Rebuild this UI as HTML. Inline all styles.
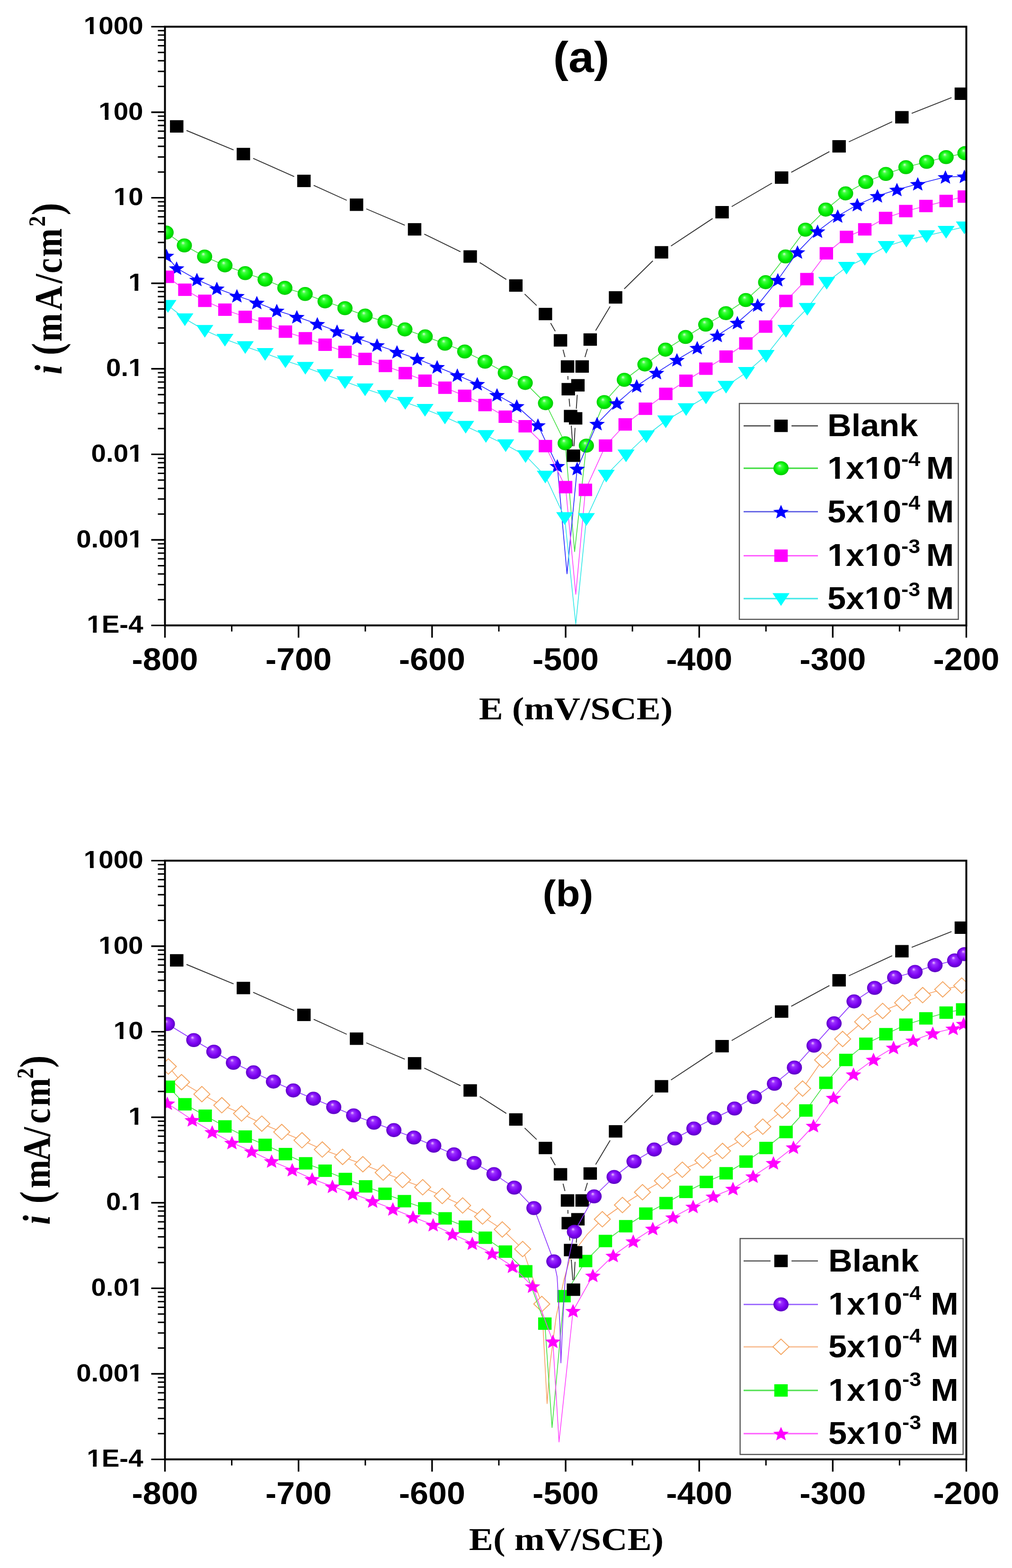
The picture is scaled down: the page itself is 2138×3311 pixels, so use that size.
<!DOCTYPE html>
<html><head><meta charset="utf-8"><title>Polarization curves (a) and (b)</title>
<style>
html,body{margin:0;padding:0;background:#fff;}
svg{display:block;}
.yl{font-family:"Liberation Sans",Arial,sans-serif;font-weight:700;font-size:52px;font-kerning:none;}
.xl{font-family:"Liberation Sans",Arial,sans-serif;font-weight:700;font-size:67.5px;}
.pl{font-family:"Liberation Sans",Arial,sans-serif;font-weight:700;}
.lg{font-family:"Liberation Sans",Arial,sans-serif;font-weight:700;font-size:66px;font-kerning:none;}
.xt{font-family:"Liberation Serif","Times New Roman",serif;font-weight:700;font-size:68.5px;}
.yt{font-family:"Liberation Serif","Times New Roman",serif;font-weight:700;font-size:83px;}
</style></head><body>
<svg width="2138" height="3311" viewBox="0 0 2138 3311">
<defs>
<clipPath id="clipP"><rect x="348.5" y="56.4" width="1693" height="1264.2"/></clipPath>
<radialGradient id="gg" cx="0.5" cy="0.5" r="0.5" fx="0.4" fy="0.3">
<stop offset="0" stop-color="#d8ffd8"/><stop offset="0.25" stop-color="#40ff40"/><stop offset="0.7" stop-color="#00f000"/><stop offset="1" stop-color="#00c800"/></radialGradient>
<radialGradient id="pg" cx="0.5" cy="0.5" r="0.5" fx="0.4" fy="0.3">
<stop offset="0" stop-color="#f0c8ff"/><stop offset="0.25" stop-color="#9a30ff"/><stop offset="0.7" stop-color="#7a00f0"/><stop offset="1" stop-color="#5a00c0"/></radialGradient>
</defs>
<rect width="2138" height="3311" fill="#fff"/>

<g transform="translate(0,0)">
<g clip-path="url(#clipP)">
<polyline points="350.9,491 389.5,518.3 432.3,541.7 475.2,560.4 518.1,576.8 560.1,590.4 601.8,607.9 644.7,620.8 686.8,636.4 728.8,650.8 771.3,666.4 813.4,679.2 855.4,695.6 898.3,710.4 940,725.8 981.8,742.3 1024.7,763.8 1067.5,787.1 1109.6,808.6 1152.5,851.4 1194,936 1214,1165 1238.8,941 1276.5,849 1319,802 1362.5,769.6 1406,738.4 1448.5,711.5 1491,685.5 1533.5,661.3 1575.7,633.5 1617.5,595.9 1659.6,541.5 1701.7,485 1744.6,442.6 1786.5,408.4 1829.1,384.2 1871.5,367.2 1913.9,353 1957.7,341.8 1998.8,331.7 2038.6,323.4" fill="none" stroke="#40e040" stroke-width="1.6" stroke-linejoin="round"/>
<ellipse cx="350.9" cy="491" rx="16" ry="14.8" fill="url(#gg)"/>
<ellipse cx="389.5" cy="518.3" rx="16" ry="14.8" fill="url(#gg)"/>
<ellipse cx="432.3" cy="541.7" rx="16" ry="14.8" fill="url(#gg)"/>
<ellipse cx="475.2" cy="560.4" rx="16" ry="14.8" fill="url(#gg)"/>
<ellipse cx="518.1" cy="576.8" rx="16" ry="14.8" fill="url(#gg)"/>
<ellipse cx="560.1" cy="590.4" rx="16" ry="14.8" fill="url(#gg)"/>
<ellipse cx="601.8" cy="607.9" rx="16" ry="14.8" fill="url(#gg)"/>
<ellipse cx="644.7" cy="620.8" rx="16" ry="14.8" fill="url(#gg)"/>
<ellipse cx="686.8" cy="636.4" rx="16" ry="14.8" fill="url(#gg)"/>
<ellipse cx="728.8" cy="650.8" rx="16" ry="14.8" fill="url(#gg)"/>
<ellipse cx="771.3" cy="666.4" rx="16" ry="14.8" fill="url(#gg)"/>
<ellipse cx="813.4" cy="679.2" rx="16" ry="14.8" fill="url(#gg)"/>
<ellipse cx="855.4" cy="695.6" rx="16" ry="14.8" fill="url(#gg)"/>
<ellipse cx="898.3" cy="710.4" rx="16" ry="14.8" fill="url(#gg)"/>
<ellipse cx="940" cy="725.8" rx="16" ry="14.8" fill="url(#gg)"/>
<ellipse cx="981.8" cy="742.3" rx="16" ry="14.8" fill="url(#gg)"/>
<ellipse cx="1024.7" cy="763.8" rx="16" ry="14.8" fill="url(#gg)"/>
<ellipse cx="1067.5" cy="787.1" rx="16" ry="14.8" fill="url(#gg)"/>
<ellipse cx="1109.6" cy="808.6" rx="16" ry="14.8" fill="url(#gg)"/>
<ellipse cx="1152.5" cy="851.4" rx="16" ry="14.8" fill="url(#gg)"/>
<ellipse cx="1194" cy="936" rx="16" ry="14.8" fill="url(#gg)"/>
<ellipse cx="1238.8" cy="941" rx="16" ry="14.8" fill="url(#gg)"/>
<ellipse cx="1276.5" cy="849" rx="16" ry="14.8" fill="url(#gg)"/>
<ellipse cx="1319" cy="802" rx="16" ry="14.8" fill="url(#gg)"/>
<ellipse cx="1362.5" cy="769.6" rx="16" ry="14.8" fill="url(#gg)"/>
<ellipse cx="1406" cy="738.4" rx="16" ry="14.8" fill="url(#gg)"/>
<ellipse cx="1448.5" cy="711.5" rx="16" ry="14.8" fill="url(#gg)"/>
<ellipse cx="1491" cy="685.5" rx="16" ry="14.8" fill="url(#gg)"/>
<ellipse cx="1533.5" cy="661.3" rx="16" ry="14.8" fill="url(#gg)"/>
<ellipse cx="1575.7" cy="633.5" rx="16" ry="14.8" fill="url(#gg)"/>
<ellipse cx="1617.5" cy="595.9" rx="16" ry="14.8" fill="url(#gg)"/>
<ellipse cx="1659.6" cy="541.5" rx="16" ry="14.8" fill="url(#gg)"/>
<ellipse cx="1701.7" cy="485" rx="16" ry="14.8" fill="url(#gg)"/>
<ellipse cx="1744.6" cy="442.6" rx="16" ry="14.8" fill="url(#gg)"/>
<ellipse cx="1786.5" cy="408.4" rx="16" ry="14.8" fill="url(#gg)"/>
<ellipse cx="1829.1" cy="384.2" rx="16" ry="14.8" fill="url(#gg)"/>
<ellipse cx="1871.5" cy="367.2" rx="16" ry="14.8" fill="url(#gg)"/>
<ellipse cx="1913.9" cy="353" rx="16" ry="14.8" fill="url(#gg)"/>
<ellipse cx="1957.7" cy="341.8" rx="16" ry="14.8" fill="url(#gg)"/>
<ellipse cx="1998.8" cy="331.7" rx="16" ry="14.8" fill="url(#gg)"/>
<ellipse cx="2038.6" cy="323.4" rx="16" ry="14.8" fill="url(#gg)"/>
<polyline points="351.7,539.7 373.1,566.2 416,590.4 458.1,609.1 500.5,624.7 542.6,639.1 584.7,655.8 627.1,669.1 670.4,683.9 712.1,699.5 754.2,714.3 796.6,728.7 838.7,743.1 881.5,757.9 923.5,774.7 966.2,792.2 1008.3,810.5 1050,833.9 1091.7,857.3 1136.5,897.7 1177.4,983.8 1197.9,1211.7 1219.3,989.6 1261.4,894.7 1303.2,851.4 1345.1,815 1387,787.1 1430.1,759.8 1473,734.4 1515.4,708.5 1557.8,681.4 1600.6,644.2 1643.3,590.9 1684.8,532.4 1727.2,488.3 1769.8,456.3 1811.1,432.4 1853.7,413.7 1894.9,400.4 1938.9,388.4 1997.4,373.8 2037.4,372.5" fill="none" stroke="#2020ff" stroke-width="1.6" stroke-linejoin="round"/>
<polygon points="351.7,525.3 356.2,535.4 368.2,536.2 359,543.3 361.9,553.9 351.7,548.1 341.5,553.9 344.4,543.3 335.2,536.2 347.2,535.4" fill="#0000ff"/>
<polygon points="373.1,551.8 377.6,561.9 389.6,562.7 380.4,569.8 383.3,580.4 373.1,574.6 362.9,580.4 365.8,569.8 356.6,562.7 368.6,561.9" fill="#0000ff"/>
<polygon points="416,576 420.5,586.1 432.5,586.9 423.3,594 426.2,604.6 416,598.8 405.8,604.6 408.7,594 399.5,586.9 411.5,586.1" fill="#0000ff"/>
<polygon points="458.1,594.7 462.6,604.8 474.6,605.6 465.4,612.7 468.3,623.3 458.1,617.5 447.9,623.3 450.8,612.7 441.6,605.6 453.6,604.8" fill="#0000ff"/>
<polygon points="500.5,610.3 505,620.4 517,621.2 507.8,628.3 510.7,638.9 500.5,633.1 490.3,638.9 493.2,628.3 484,621.2 496,620.4" fill="#0000ff"/>
<polygon points="542.6,624.7 547.1,634.8 559.1,635.6 549.9,642.7 552.8,653.3 542.6,647.5 532.4,653.3 535.3,642.7 526.1,635.6 538.1,634.8" fill="#0000ff"/>
<polygon points="584.7,641.4 589.2,651.5 601.2,652.3 592,659.4 594.9,670 584.7,664.2 574.5,670 577.4,659.4 568.2,652.3 580.2,651.5" fill="#0000ff"/>
<polygon points="627.1,654.7 631.6,664.8 643.6,665.6 634.4,672.7 637.3,683.3 627.1,677.5 616.9,683.3 619.8,672.7 610.6,665.6 622.6,664.8" fill="#0000ff"/>
<polygon points="670.4,669.5 674.9,679.6 686.9,680.4 677.7,687.5 680.6,698.1 670.4,692.3 660.2,698.1 663.1,687.5 653.9,680.4 665.9,679.6" fill="#0000ff"/>
<polygon points="712.1,685.1 716.6,695.2 728.6,696 719.4,703.1 722.3,713.7 712.1,707.9 701.9,713.7 704.8,703.1 695.6,696 707.6,695.2" fill="#0000ff"/>
<polygon points="754.2,699.9 758.7,710 770.7,710.8 761.5,717.9 764.4,728.5 754.2,722.7 744,728.5 746.9,717.9 737.7,710.8 749.7,710" fill="#0000ff"/>
<polygon points="796.6,714.3 801.1,724.4 813.1,725.2 803.9,732.3 806.8,742.9 796.6,737.1 786.4,742.9 789.3,732.3 780.1,725.2 792.1,724.4" fill="#0000ff"/>
<polygon points="838.7,728.7 843.2,738.8 855.2,739.6 846,746.7 848.9,757.3 838.7,751.5 828.5,757.3 831.4,746.7 822.2,739.6 834.2,738.8" fill="#0000ff"/>
<polygon points="881.5,743.5 886,753.6 898,754.4 888.8,761.5 891.7,772.1 881.5,766.3 871.3,772.1 874.2,761.5 865,754.4 877,753.6" fill="#0000ff"/>
<polygon points="923.5,760.3 928,770.4 940,771.2 930.8,778.3 933.7,788.9 923.5,783.1 913.3,788.9 916.2,778.3 907,771.2 919,770.4" fill="#0000ff"/>
<polygon points="966.2,777.8 970.7,787.9 982.7,788.7 973.5,795.8 976.4,806.4 966.2,800.6 956,806.4 958.9,795.8 949.7,788.7 961.7,787.9" fill="#0000ff"/>
<polygon points="1008.3,796.1 1012.8,806.2 1024.8,807 1015.6,814.1 1018.5,824.7 1008.3,818.9 998.1,824.7 1001,814.1 991.8,807 1003.8,806.2" fill="#0000ff"/>
<polygon points="1050,819.5 1054.5,829.6 1066.5,830.4 1057.3,837.5 1060.2,848.1 1050,842.3 1039.8,848.1 1042.7,837.5 1033.5,830.4 1045.5,829.6" fill="#0000ff"/>
<polygon points="1091.7,842.9 1096.2,853 1108.2,853.8 1099,860.9 1101.9,871.5 1091.7,865.7 1081.5,871.5 1084.4,860.9 1075.2,853.8 1087.2,853" fill="#0000ff"/>
<polygon points="1136.5,883.3 1141,893.4 1153,894.2 1143.8,901.3 1146.7,911.9 1136.5,906.1 1126.3,911.9 1129.2,901.3 1120,894.2 1132,893.4" fill="#0000ff"/>
<polygon points="1177.4,969.4 1181.9,979.5 1193.9,980.3 1184.7,987.4 1187.6,998 1177.4,992.2 1167.2,998 1170.1,987.4 1160.9,980.3 1172.9,979.5" fill="#0000ff"/>
<polygon points="1219.3,975.2 1223.8,985.3 1235.8,986.1 1226.6,993.2 1229.5,1003.8 1219.3,998 1209.1,1003.8 1212,993.2 1202.8,986.1 1214.8,985.3" fill="#0000ff"/>
<polygon points="1261.4,880.3 1265.9,890.4 1277.9,891.2 1268.7,898.3 1271.6,908.9 1261.4,903.1 1251.2,908.9 1254.1,898.3 1244.9,891.2 1256.9,890.4" fill="#0000ff"/>
<polygon points="1303.2,837 1307.7,847.1 1319.7,847.9 1310.5,855 1313.4,865.6 1303.2,859.8 1293,865.6 1295.9,855 1286.7,847.9 1298.7,847.1" fill="#0000ff"/>
<polygon points="1345.1,800.6 1349.6,810.7 1361.6,811.5 1352.4,818.6 1355.3,829.2 1345.1,823.4 1334.9,829.2 1337.8,818.6 1328.6,811.5 1340.6,810.7" fill="#0000ff"/>
<polygon points="1387,772.7 1391.5,782.8 1403.5,783.6 1394.3,790.7 1397.2,801.3 1387,795.5 1376.8,801.3 1379.7,790.7 1370.5,783.6 1382.5,782.8" fill="#0000ff"/>
<polygon points="1430.1,745.4 1434.6,755.5 1446.6,756.3 1437.4,763.4 1440.3,774 1430.1,768.2 1419.9,774 1422.8,763.4 1413.6,756.3 1425.6,755.5" fill="#0000ff"/>
<polygon points="1473,720 1477.5,730.1 1489.5,730.9 1480.3,738 1483.2,748.6 1473,742.8 1462.8,748.6 1465.7,738 1456.5,730.9 1468.5,730.1" fill="#0000ff"/>
<polygon points="1515.4,694.1 1519.9,704.2 1531.9,705 1522.7,712.1 1525.6,722.7 1515.4,716.9 1505.2,722.7 1508.1,712.1 1498.9,705 1510.9,704.2" fill="#0000ff"/>
<polygon points="1557.8,667 1562.3,677.1 1574.3,677.9 1565.1,685 1568,695.6 1557.8,689.8 1547.6,695.6 1550.5,685 1541.3,677.9 1553.3,677.1" fill="#0000ff"/>
<polygon points="1600.6,629.8 1605.1,639.9 1617.1,640.7 1607.9,647.8 1610.8,658.4 1600.6,652.6 1590.4,658.4 1593.3,647.8 1584.1,640.7 1596.1,639.9" fill="#0000ff"/>
<polygon points="1643.3,576.5 1647.8,586.6 1659.8,587.4 1650.6,594.5 1653.5,605.1 1643.3,599.3 1633.1,605.1 1636,594.5 1626.8,587.4 1638.8,586.6" fill="#0000ff"/>
<polygon points="1684.8,518 1689.3,528.1 1701.3,528.9 1692.1,536 1695,546.6 1684.8,540.8 1674.6,546.6 1677.5,536 1668.3,528.9 1680.3,528.1" fill="#0000ff"/>
<polygon points="1727.2,473.9 1731.7,484 1743.7,484.8 1734.5,491.9 1737.4,502.5 1727.2,496.7 1717,502.5 1719.9,491.9 1710.7,484.8 1722.7,484" fill="#0000ff"/>
<polygon points="1769.8,441.9 1774.3,452 1786.3,452.8 1777.1,459.9 1780,470.5 1769.8,464.7 1759.6,470.5 1762.5,459.9 1753.3,452.8 1765.3,452" fill="#0000ff"/>
<polygon points="1811.1,418 1815.6,428.1 1827.6,428.9 1818.4,436 1821.3,446.6 1811.1,440.8 1800.9,446.6 1803.8,436 1794.6,428.9 1806.6,428.1" fill="#0000ff"/>
<polygon points="1853.7,399.3 1858.2,409.4 1870.2,410.2 1861,417.3 1863.9,427.9 1853.7,422.1 1843.5,427.9 1846.4,417.3 1837.2,410.2 1849.2,409.4" fill="#0000ff"/>
<polygon points="1894.9,386 1899.4,396.1 1911.4,396.9 1902.2,404 1905.1,414.6 1894.9,408.8 1884.7,414.6 1887.6,404 1878.4,396.9 1890.4,396.1" fill="#0000ff"/>
<polygon points="1938.9,374 1943.4,384.1 1955.4,384.9 1946.2,392 1949.1,402.6 1938.9,396.8 1928.7,402.6 1931.6,392 1922.4,384.9 1934.4,384.1" fill="#0000ff"/>
<polygon points="1997.4,359.4 2001.9,369.5 2013.9,370.3 2004.7,377.4 2007.6,388 1997.4,382.2 1987.2,388 1990.1,377.4 1980.9,370.3 1992.9,369.5" fill="#0000ff"/>
<polygon points="2037.4,358.1 2041.9,368.2 2053.9,369 2044.7,376.1 2047.6,386.7 2037.4,380.9 2027.2,386.7 2030.1,376.1 2020.9,369 2032.9,368.2" fill="#0000ff"/>
<polyline points="353.6,584.5 390.6,611.8 432.7,635.2 475.2,653.9 518.1,669.1 560.1,683.1 603,700.3 645.1,714.3 686.8,727.9 728.8,743.1 771.3,757.9 814.2,772.7 856.2,787.9 897.9,803.9 940,818.7 981.8,835.8 1024.7,855.3 1067.5,879.9 1109.6,900.1 1152.3,942 1194.9,1028.6 1216.4,1255 1236.8,1034.4 1279.3,941 1320.8,896.2 1363.6,863.1 1406.6,831.7 1449.2,804 1491.3,778.5 1533.9,753 1575.7,725.3 1617.6,689.6 1660.3,635.5 1704.7,589.4 1745.8,534.9 1788.4,500.3 1827,484.3 1871,460.3 1913.6,445.7 1956.2,435 1998.8,424.4 2037.4,415.1" fill="none" stroke="#ff40ff" stroke-width="1.6" stroke-linejoin="round"/>
<rect x="339.4" y="571.4" width="28.4" height="26.2" fill="#ff00ff"/>
<rect x="376.4" y="598.7" width="28.4" height="26.2" fill="#ff00ff"/>
<rect x="418.5" y="622.1" width="28.4" height="26.2" fill="#ff00ff"/>
<rect x="461" y="640.8" width="28.4" height="26.2" fill="#ff00ff"/>
<rect x="503.9" y="656" width="28.4" height="26.2" fill="#ff00ff"/>
<rect x="545.9" y="670" width="28.4" height="26.2" fill="#ff00ff"/>
<rect x="588.8" y="687.2" width="28.4" height="26.2" fill="#ff00ff"/>
<rect x="630.9" y="701.2" width="28.4" height="26.2" fill="#ff00ff"/>
<rect x="672.6" y="714.8" width="28.4" height="26.2" fill="#ff00ff"/>
<rect x="714.6" y="730" width="28.4" height="26.2" fill="#ff00ff"/>
<rect x="757.1" y="744.8" width="28.4" height="26.2" fill="#ff00ff"/>
<rect x="800" y="759.6" width="28.4" height="26.2" fill="#ff00ff"/>
<rect x="842" y="774.8" width="28.4" height="26.2" fill="#ff00ff"/>
<rect x="883.7" y="790.8" width="28.4" height="26.2" fill="#ff00ff"/>
<rect x="925.8" y="805.6" width="28.4" height="26.2" fill="#ff00ff"/>
<rect x="967.6" y="822.7" width="28.4" height="26.2" fill="#ff00ff"/>
<rect x="1010.5" y="842.2" width="28.4" height="26.2" fill="#ff00ff"/>
<rect x="1053.3" y="866.8" width="28.4" height="26.2" fill="#ff00ff"/>
<rect x="1095.4" y="887" width="28.4" height="26.2" fill="#ff00ff"/>
<rect x="1138.1" y="928.9" width="28.4" height="26.2" fill="#ff00ff"/>
<rect x="1180.7" y="1015.5" width="28.4" height="26.2" fill="#ff00ff"/>
<rect x="1222.6" y="1021.3" width="28.4" height="26.2" fill="#ff00ff"/>
<rect x="1265.1" y="927.9" width="28.4" height="26.2" fill="#ff00ff"/>
<rect x="1306.6" y="883.1" width="28.4" height="26.2" fill="#ff00ff"/>
<rect x="1349.4" y="850" width="28.4" height="26.2" fill="#ff00ff"/>
<rect x="1392.4" y="818.6" width="28.4" height="26.2" fill="#ff00ff"/>
<rect x="1435" y="790.9" width="28.4" height="26.2" fill="#ff00ff"/>
<rect x="1477.1" y="765.4" width="28.4" height="26.2" fill="#ff00ff"/>
<rect x="1519.7" y="739.9" width="28.4" height="26.2" fill="#ff00ff"/>
<rect x="1561.5" y="712.2" width="28.4" height="26.2" fill="#ff00ff"/>
<rect x="1603.4" y="676.5" width="28.4" height="26.2" fill="#ff00ff"/>
<rect x="1646.1" y="622.4" width="28.4" height="26.2" fill="#ff00ff"/>
<rect x="1690.5" y="576.3" width="28.4" height="26.2" fill="#ff00ff"/>
<rect x="1731.6" y="521.8" width="28.4" height="26.2" fill="#ff00ff"/>
<rect x="1774.2" y="487.2" width="28.4" height="26.2" fill="#ff00ff"/>
<rect x="1812.8" y="471.2" width="28.4" height="26.2" fill="#ff00ff"/>
<rect x="1856.8" y="447.2" width="28.4" height="26.2" fill="#ff00ff"/>
<rect x="1899.4" y="432.6" width="28.4" height="26.2" fill="#ff00ff"/>
<rect x="1942" y="421.9" width="28.4" height="26.2" fill="#ff00ff"/>
<rect x="1984.6" y="411.3" width="28.4" height="26.2" fill="#ff00ff"/>
<rect x="2023.2" y="402" width="28.4" height="26.2" fill="#ff00ff"/>
<polyline points="354.8,644.9 390.6,673 432.7,697.5 475.2,716.2 518.1,731.8 560.1,746.2 603,761.8 645.1,775.5 686.8,791 728.8,805.8 771.3,821 814.2,835.1 856.2,849.5 897.9,864.3 940,880.6 983.8,900.1 1026.6,919.6 1068.3,939.1 1110.3,962 1152.1,1005.2 1193,1092.9 1216.4,1318 1238.8,1094.8 1280.7,1003.3 1322.6,960.5 1365.5,920 1406.5,888.5 1449.5,862.7 1491.5,838 1533.9,815.6 1577,786.3 1618.5,750.4 1660.5,697.4 1705.5,651 1746.5,596 1788.4,564.2 1827,545.5 1872.3,520.2 1914.9,506.9 1957.5,497.6 1998.8,488.3 2037.4,479" fill="none" stroke="#30e8e8" stroke-width="1.6" stroke-linejoin="round"/>
<polygon points="336.8,633.6 372.8,633.6 354.8,660.4" fill="#00ffff"/>
<polygon points="372.6,661.7 408.6,661.7 390.6,688.5" fill="#00ffff"/>
<polygon points="414.7,686.2 450.7,686.2 432.7,713" fill="#00ffff"/>
<polygon points="457.2,704.9 493.2,704.9 475.2,731.7" fill="#00ffff"/>
<polygon points="500.1,720.5 536.1,720.5 518.1,747.3" fill="#00ffff"/>
<polygon points="542.1,734.9 578.1,734.9 560.1,761.7" fill="#00ffff"/>
<polygon points="585,750.5 621,750.5 603,777.3" fill="#00ffff"/>
<polygon points="627.1,764.2 663.1,764.2 645.1,791" fill="#00ffff"/>
<polygon points="668.8,779.7 704.8,779.7 686.8,806.5" fill="#00ffff"/>
<polygon points="710.8,794.5 746.8,794.5 728.8,821.3" fill="#00ffff"/>
<polygon points="753.3,809.7 789.3,809.7 771.3,836.5" fill="#00ffff"/>
<polygon points="796.2,823.8 832.2,823.8 814.2,850.6" fill="#00ffff"/>
<polygon points="838.2,838.2 874.2,838.2 856.2,865" fill="#00ffff"/>
<polygon points="879.9,853 915.9,853 897.9,879.8" fill="#00ffff"/>
<polygon points="922,869.3 958,869.3 940,896.1" fill="#00ffff"/>
<polygon points="965.8,888.8 1001.8,888.8 983.8,915.6" fill="#00ffff"/>
<polygon points="1008.6,908.3 1044.6,908.3 1026.6,935.1" fill="#00ffff"/>
<polygon points="1050.3,927.8 1086.3,927.8 1068.3,954.6" fill="#00ffff"/>
<polygon points="1092.3,950.7 1128.3,950.7 1110.3,977.5" fill="#00ffff"/>
<polygon points="1134.1,993.9 1170.1,993.9 1152.1,1020.7" fill="#00ffff"/>
<polygon points="1175,1081.6 1211,1081.6 1193,1108.4" fill="#00ffff"/>
<polygon points="1220.8,1083.5 1256.8,1083.5 1238.8,1110.3" fill="#00ffff"/>
<polygon points="1262.7,992 1298.7,992 1280.7,1018.8" fill="#00ffff"/>
<polygon points="1304.6,949.2 1340.6,949.2 1322.6,976" fill="#00ffff"/>
<polygon points="1347.5,908.7 1383.5,908.7 1365.5,935.5" fill="#00ffff"/>
<polygon points="1388.5,877.2 1424.5,877.2 1406.5,904" fill="#00ffff"/>
<polygon points="1431.5,851.4 1467.5,851.4 1449.5,878.2" fill="#00ffff"/>
<polygon points="1473.5,826.7 1509.5,826.7 1491.5,853.5" fill="#00ffff"/>
<polygon points="1515.9,804.3 1551.9,804.3 1533.9,831.1" fill="#00ffff"/>
<polygon points="1559,775 1595,775 1577,801.8" fill="#00ffff"/>
<polygon points="1600.5,739.1 1636.5,739.1 1618.5,765.9" fill="#00ffff"/>
<polygon points="1642.5,686.1 1678.5,686.1 1660.5,712.9" fill="#00ffff"/>
<polygon points="1687.5,639.7 1723.5,639.7 1705.5,666.5" fill="#00ffff"/>
<polygon points="1728.5,584.7 1764.5,584.7 1746.5,611.5" fill="#00ffff"/>
<polygon points="1770.4,552.9 1806.4,552.9 1788.4,579.7" fill="#00ffff"/>
<polygon points="1809,534.2 1845,534.2 1827,561" fill="#00ffff"/>
<polygon points="1854.3,508.9 1890.3,508.9 1872.3,535.7" fill="#00ffff"/>
<polygon points="1896.9,495.6 1932.9,495.6 1914.9,522.4" fill="#00ffff"/>
<polygon points="1939.5,486.3 1975.5,486.3 1957.5,513.1" fill="#00ffff"/>
<polygon points="1980.8,477 2016.8,477 1998.8,503.8" fill="#00ffff"/>
<polygon points="2019.4,467.7 2055.4,467.7 2037.4,494.5" fill="#00ffff"/>
<path d="M394 275.5L493.5 316.7 M534.8 334.4L621.5 372.9 M662.7 391.3L732.6 423 M773.8 441L855.3 475.6 M896.4 494.3L972.9 531.6 M1013.5 554.4L1069.7 590.1 M1108.4 620.9L1133.7 645.1 M1163.3 682.3L1173.1 699.5 M1189.5 738.6L1193.6 754 M1199.7 794L1199.9 801.7 M1202.3 841.9L1203.8 858.5 M1206.9 898.7L1210.1 942.2 M1212.7 942.2L1214.9 903.5 M1217.5 863.3L1219.5 833.7 M1235.8 754.1L1241 736.8 M1258.4 697.9L1289 647.1 M1318.8 610L1379.2 550.8 M1417.5 519.5L1505.5 461.4 M1545.8 436.3L1630.9 386.8 M1671.6 363.9L1752.3 320.1 M1793.3 299.5L1884.8 257.1 M1926.1 239.4L2010.3 206.1" fill="none" stroke="#333" stroke-width="1.9"/>
<rect x="359.1" y="253.8" width="28.4" height="26.2" fill="#000"/>
<rect x="500" y="312.2" width="28.4" height="26.2" fill="#000"/>
<rect x="627.9" y="368.9" width="28.4" height="26.2" fill="#000"/>
<rect x="739" y="419.2" width="28.4" height="26.2" fill="#000"/>
<rect x="861.7" y="471.2" width="28.4" height="26.2" fill="#000"/>
<rect x="979.2" y="528.5" width="28.4" height="26.2" fill="#000"/>
<rect x="1075.6" y="589.8" width="28.4" height="26.2" fill="#000"/>
<rect x="1138.1" y="650" width="28.4" height="26.2" fill="#000"/>
<rect x="1169.9" y="705.6" width="28.4" height="26.2" fill="#000"/>
<rect x="1184.8" y="760.8" width="28.4" height="26.2" fill="#000"/>
<rect x="1186.4" y="808.7" width="28.4" height="26.2" fill="#000"/>
<rect x="1191.3" y="865.5" width="28.4" height="26.2" fill="#000"/>
<rect x="1197.3" y="949.2" width="28.4" height="26.2" fill="#000"/>
<rect x="1201.9" y="870.3" width="28.4" height="26.2" fill="#000"/>
<rect x="1206.7" y="800.5" width="28.4" height="26.2" fill="#000"/>
<rect x="1215.7" y="760.8" width="28.4" height="26.2" fill="#000"/>
<rect x="1232.7" y="703.9" width="28.4" height="26.2" fill="#000"/>
<rect x="1286.3" y="614.9" width="28.4" height="26.2" fill="#000"/>
<rect x="1383.3" y="519.7" width="28.4" height="26.2" fill="#000"/>
<rect x="1511.3" y="435" width="28.4" height="26.2" fill="#000"/>
<rect x="1637" y="361.9" width="28.4" height="26.2" fill="#000"/>
<rect x="1758.5" y="295.9" width="28.4" height="26.2" fill="#000"/>
<rect x="1891.2" y="234.5" width="28.4" height="26.2" fill="#000"/>
<rect x="2016.8" y="184.8" width="28.4" height="26.2" fill="#000"/>
</g>
<rect x="348.5" y="56.4" width="1693" height="1264.2" fill="none" stroke="#000" stroke-width="4"/>
<path d="M319.5 56.4H348.5 M319.5 237H348.5 M319.5 417.6H348.5 M319.5 598.2H348.5 M319.5 778.8H348.5 M319.5 959.4H348.5 M319.5 1140H348.5 M319.5 1320.6H348.5" stroke="#000" stroke-width="3.4"/>
<path d="M333.5 182.6H348.5 M333.5 150.8H348.5 M333.5 128.3H348.5 M333.5 110.8H348.5 M333.5 96.5H348.5 M333.5 84.4H348.5 M333.5 73.9H348.5 M333.5 64.7H348.5 M333.5 363.2H348.5 M333.5 331.4H348.5 M333.5 308.9H348.5 M333.5 291.4H348.5 M333.5 277.1H348.5 M333.5 265H348.5 M333.5 254.5H348.5 M333.5 245.3H348.5 M333.5 543.8H348.5 M333.5 512H348.5 M333.5 489.5H348.5 M333.5 472H348.5 M333.5 457.7H348.5 M333.5 445.6H348.5 M333.5 435.1H348.5 M333.5 425.9H348.5 M333.5 724.4H348.5 M333.5 692.6H348.5 M333.5 670.1H348.5 M333.5 652.6H348.5 M333.5 638.3H348.5 M333.5 626.2H348.5 M333.5 615.7H348.5 M333.5 606.5H348.5 M333.5 905H348.5 M333.5 873.2H348.5 M333.5 850.7H348.5 M333.5 833.2H348.5 M333.5 818.9H348.5 M333.5 806.8H348.5 M333.5 796.3H348.5 M333.5 787.1H348.5 M333.5 1085.6H348.5 M333.5 1053.8H348.5 M333.5 1031.3H348.5 M333.5 1013.8H348.5 M333.5 999.5H348.5 M333.5 987.4H348.5 M333.5 976.9H348.5 M333.5 967.7H348.5 M333.5 1266.2H348.5 M333.5 1234.4H348.5 M333.5 1211.9H348.5 M333.5 1194.4H348.5 M333.5 1180.1H348.5 M333.5 1168H348.5 M333.5 1157.5H348.5 M333.5 1148.3H348.5" stroke="#000" stroke-width="3"/>
<path d="M348.5 1320.6V1346.6 M630.7 1320.6V1346.6 M912.8 1320.6V1346.6 M1195 1320.6V1346.6 M1477.2 1320.6V1346.6 M1759.3 1320.6V1346.6 M2041.5 1320.6V1346.6" stroke="#000" stroke-width="3.4"/>
<path d="M489.6 1320.6V1333.6 M771.8 1320.6V1333.6 M1053.9 1320.6V1333.6 M1336.1 1320.6V1333.6 M1618.2 1320.6V1333.6 M1900.4 1320.6V1333.6" stroke="#000" stroke-width="3"/>
<g transform="translate(302.6,71.9) scale(1.087,1)"><text x="-115.7" class="yl">1000</text><path d="M-113.6 -7.1H-103.5V2H-113.6ZM-96.4 -7.1H-87V2H-96.4Z" fill="#fff"/></g>
<g transform="translate(302.6,252.5) scale(1.087,1)"><text x="-86.8" class="yl">100</text><path d="M-84.7 -7.1H-74.6V2H-84.7ZM-67.5 -7.1H-58.1V2H-67.5Z" fill="#fff"/></g>
<g transform="translate(302.6,433.1) scale(1.087,1)"><text x="-57.8" class="yl">10</text><path d="M-55.8 -7.1H-45.7V2H-55.8ZM-38.6 -7.1H-29.2V2H-38.6Z" fill="#fff"/></g>
<g transform="translate(302.6,613.7) scale(1.087,1)"><text x="-28.9" class="yl">1</text><path d="M-26.8 -7.1H-16.8V2H-26.8ZM-9.6 -7.1H-0.2V2H-9.6Z" fill="#fff"/></g>
<g transform="translate(302.6,794.3) scale(1.087,1)"><text x="-72.3" class="yl">0.1</text><path d="M-26.8 -7.1H-16.8V2H-26.8ZM-9.6 -7.1H-0.2V2H-9.6Z" fill="#fff"/></g>
<g transform="translate(302.6,974.9) scale(1.087,1)"><text x="-101.2" class="yl">0.01</text><path d="M-26.8 -7.1H-16.8V2H-26.8ZM-9.6 -7.1H-0.2V2H-9.6Z" fill="#fff"/></g>
<g transform="translate(302.6,1155.5) scale(1.087,1)"><text x="-130.1" class="yl">0.001</text><path d="M-26.8 -7.1H-16.8V2H-26.8ZM-9.6 -7.1H-0.2V2H-9.6Z" fill="#fff"/></g>
<g transform="translate(302.6,1336.1) scale(1.087,1)"><text x="-109.8" class="yl">1E-4</text><path d="M-107.8 -7.1H-97.7V2H-107.8ZM-90.6 -7.1H-81.2V2H-90.6Z" fill="#fff"/></g>
<text transform="translate(348.5,1414.5) scale(1.037,1)" text-anchor="middle" class="xl">-800</text>
<text transform="translate(630.7,1414.5) scale(1.037,1)" text-anchor="middle" class="xl">-700</text>
<text transform="translate(912.8,1414.5) scale(1.037,1)" text-anchor="middle" class="xl">-600</text>
<text transform="translate(1195,1414.5) scale(1.037,1)" text-anchor="middle" class="xl">-500</text>
<text transform="translate(1477.2,1414.5) scale(1.037,1)" text-anchor="middle" class="xl">-400</text>
<text transform="translate(1759.3,1414.5) scale(1.037,1)" text-anchor="middle" class="xl">-300</text>
<text transform="translate(2041.5,1414.5) scale(1.037,1)" text-anchor="middle" class="xl">-200</text>
<text transform="translate(1228,152.1) scale(1.058,1)" text-anchor="middle" class="pl" font-size="91.5">(a)</text>
<text transform="translate(1216.5,1519.3) scale(1.115,1)" text-anchor="middle" class="xt">E (mV/SCE)</text>
<text transform="translate(129.9,0) rotate(-90) scale(0.87,1)" class="yt"><tspan x="-908.7" y="0" font-style="italic">i</tspan> <tspan x="-862.3" y="0" font-size="90">(</tspan><tspan x="-829.4" y="0">m</tspan><tspan x="-754" y="0">A</tspan><tspan x="-687.9" y="0">/</tspan><tspan x="-663.6" y="0">c</tspan><tspan x="-623.5" y="0">m</tspan><tspan x="-549.8" y="-34.5" font-size="51">2</tspan><tspan x="-522.4" y="0" font-size="90">)</tspan></text>
<rect x="1562" y="852" width="462.6" height="455.8" fill="#fff" stroke="#555" stroke-width="2.4"/>
<path d="M1571 899.2H1627.8M1672.2 899.2H1728" stroke="#444" stroke-width="2.4"/>
<rect x="1635.8" y="886.1" width="28.4" height="26.2" fill="#000"/>
<text transform="translate(1748,921.2) scale(1.065,1)" class="lg">Blank</text>
<line x1="1571" y1="988.7" x2="1728" y2="988.7" stroke="#3fdc3f" stroke-width="3"/>
<ellipse cx="1650" cy="988.7" rx="16" ry="14.8" fill="url(#gg)"/>
<g transform="translate(1748,1010.7) scale(1.065,1)"><text x="0" class="lg">1x10<tspan dy="-27" font-size="42">-4</tspan><tspan dy="27" dx="12">M</tspan></text><path d="M3 -8.5H15.4V2H3ZM24.5 -8.5H36.1V2H24.5ZM76.4 -8.5H88.8V2H76.4ZM97.9 -8.5H109.5V2H97.9Z" fill="#fff"/></g>
<line x1="1571" y1="1080.5" x2="1728" y2="1080.5" stroke="#6a6ae6" stroke-width="3"/>
<polygon points="1650,1066.1 1654.5,1076.2 1666.5,1077 1657.3,1084.1 1660.2,1094.7 1650,1088.9 1639.8,1094.7 1642.7,1084.1 1633.5,1077 1645.5,1076.2" fill="#0000ff"/>
<g transform="translate(1748,1102.5) scale(1.065,1)"><text x="0" class="lg">5x10<tspan dy="-27" font-size="42">-4</tspan><tspan dy="27" dx="12">M</tspan></text><path d="M76.4 -8.5H88.8V2H76.4ZM97.9 -8.5H109.5V2H97.9Z" fill="#fff"/></g>
<line x1="1571" y1="1173.4" x2="1728" y2="1173.4" stroke="#ff60ff" stroke-width="3"/>
<rect x="1635.8" y="1160.3" width="28.4" height="26.2" fill="#ff00ff"/>
<g transform="translate(1748,1195.4) scale(1.065,1)"><text x="0" class="lg">1x10<tspan dy="-27" font-size="42">-3</tspan><tspan dy="27" dx="12">M</tspan></text><path d="M3 -8.5H15.4V2H3ZM24.5 -8.5H36.1V2H24.5ZM76.4 -8.5H88.8V2H76.4ZM97.9 -8.5H109.5V2H97.9Z" fill="#fff"/></g>
<line x1="1571" y1="1263.9" x2="1728" y2="1263.9" stroke="#40e8e8" stroke-width="3"/>
<polygon points="1632,1252.6 1668,1252.6 1650,1279.4" fill="#00ffff"/>
<g transform="translate(1748,1285.9) scale(1.065,1)"><text x="0" class="lg">5x10<tspan dy="-27" font-size="42">-3</tspan><tspan dy="27" dx="12">M</tspan></text><path d="M76.4 -8.5H88.8V2H76.4ZM97.9 -8.5H109.5V2H97.9Z" fill="#fff"/></g>
</g>
<g transform="translate(0,1761)">
<g clip-path="url(#clipP)">
<polyline points="355.6,491 383.6,524.1 426.5,549.4 468.6,572.8 510.3,590.3 553.1,611.7 595.2,629.3 638,646.8 680.9,666.3 723.8,681.9 766.6,697.4 809.5,715 850.4,730.6 893,746 934.3,764.5 977.4,784.5 1019.5,807.8 1061.2,835.1 1104.2,876.5 1144.6,992.5 1155.8,1203 1162,1119 1175,1019 1192,939 1206,891 1241,845 1272.5,813.5 1315,783.5 1357.3,756.5 1399.5,732.5 1441.5,709 1485,689.5 1526.4,669.3 1569.2,644.3 1611.5,618 1652.6,583.9 1695.6,537.6 1737.9,477.2 1780.2,432.9 1822.5,396.7 1864.7,373.7 1907,356.4 1949.3,340.3 1991.6,328.2 2031.8,320.2" fill="none" stroke="#f8a060" stroke-width="1.6" stroke-linejoin="round"/>
<polygon points="355.6,474.7 372.6,491 355.6,507.3 338.6,491" fill="#fff" stroke="#f4a25a" stroke-width="1.8"/>
<polygon points="383.6,507.8 400.6,524.1 383.6,540.4 366.6,524.1" fill="#fff" stroke="#f4a25a" stroke-width="1.8"/>
<polygon points="426.5,533.1 443.5,549.4 426.5,565.7 409.5,549.4" fill="#fff" stroke="#f4a25a" stroke-width="1.8"/>
<polygon points="468.6,556.5 485.6,572.8 468.6,589.1 451.6,572.8" fill="#fff" stroke="#f4a25a" stroke-width="1.8"/>
<polygon points="510.3,574 527.3,590.3 510.3,606.6 493.3,590.3" fill="#fff" stroke="#f4a25a" stroke-width="1.8"/>
<polygon points="553.1,595.4 570.1,611.7 553.1,628 536.1,611.7" fill="#fff" stroke="#f4a25a" stroke-width="1.8"/>
<polygon points="595.2,613 612.2,629.3 595.2,645.6 578.2,629.3" fill="#fff" stroke="#f4a25a" stroke-width="1.8"/>
<polygon points="638,630.5 655,646.8 638,663.1 621,646.8" fill="#fff" stroke="#f4a25a" stroke-width="1.8"/>
<polygon points="680.9,650 697.9,666.3 680.9,682.6 663.9,666.3" fill="#fff" stroke="#f4a25a" stroke-width="1.8"/>
<polygon points="723.8,665.6 740.8,681.9 723.8,698.2 706.8,681.9" fill="#fff" stroke="#f4a25a" stroke-width="1.8"/>
<polygon points="766.6,681.1 783.6,697.4 766.6,713.7 749.6,697.4" fill="#fff" stroke="#f4a25a" stroke-width="1.8"/>
<polygon points="809.5,698.7 826.5,715 809.5,731.3 792.5,715" fill="#fff" stroke="#f4a25a" stroke-width="1.8"/>
<polygon points="850.4,714.3 867.4,730.6 850.4,746.9 833.4,730.6" fill="#fff" stroke="#f4a25a" stroke-width="1.8"/>
<polygon points="893,729.7 910,746 893,762.3 876,746" fill="#fff" stroke="#f4a25a" stroke-width="1.8"/>
<polygon points="934.3,748.2 951.3,764.5 934.3,780.8 917.3,764.5" fill="#fff" stroke="#f4a25a" stroke-width="1.8"/>
<polygon points="977.4,768.2 994.4,784.5 977.4,800.8 960.4,784.5" fill="#fff" stroke="#f4a25a" stroke-width="1.8"/>
<polygon points="1019.5,791.5 1036.5,807.8 1019.5,824.1 1002.5,807.8" fill="#fff" stroke="#f4a25a" stroke-width="1.8"/>
<polygon points="1061.2,818.8 1078.2,835.1 1061.2,851.4 1044.2,835.1" fill="#fff" stroke="#f4a25a" stroke-width="1.8"/>
<polygon points="1104.2,860.2 1121.2,876.5 1104.2,892.8 1087.2,876.5" fill="#fff" stroke="#f4a25a" stroke-width="1.8"/>
<polygon points="1144.6,976.2 1161.6,992.5 1144.6,1008.8 1127.6,992.5" fill="#fff" stroke="#f4a25a" stroke-width="1.8"/>
<polygon points="1272.5,797.2 1289.5,813.5 1272.5,829.8 1255.5,813.5" fill="#fff" stroke="#f4a25a" stroke-width="1.8"/>
<polygon points="1315,767.2 1332,783.5 1315,799.8 1298,783.5" fill="#fff" stroke="#f4a25a" stroke-width="1.8"/>
<polygon points="1357.3,740.2 1374.3,756.5 1357.3,772.8 1340.3,756.5" fill="#fff" stroke="#f4a25a" stroke-width="1.8"/>
<polygon points="1399.5,716.2 1416.5,732.5 1399.5,748.8 1382.5,732.5" fill="#fff" stroke="#f4a25a" stroke-width="1.8"/>
<polygon points="1441.5,692.7 1458.5,709 1441.5,725.3 1424.5,709" fill="#fff" stroke="#f4a25a" stroke-width="1.8"/>
<polygon points="1485,673.2 1502,689.5 1485,705.8 1468,689.5" fill="#fff" stroke="#f4a25a" stroke-width="1.8"/>
<polygon points="1526.4,653 1543.4,669.3 1526.4,685.6 1509.4,669.3" fill="#fff" stroke="#f4a25a" stroke-width="1.8"/>
<polygon points="1569.2,628 1586.2,644.3 1569.2,660.6 1552.2,644.3" fill="#fff" stroke="#f4a25a" stroke-width="1.8"/>
<polygon points="1611.5,601.7 1628.5,618 1611.5,634.3 1594.5,618" fill="#fff" stroke="#f4a25a" stroke-width="1.8"/>
<polygon points="1652.6,567.6 1669.6,583.9 1652.6,600.2 1635.6,583.9" fill="#fff" stroke="#f4a25a" stroke-width="1.8"/>
<polygon points="1695.6,521.3 1712.6,537.6 1695.6,553.9 1678.6,537.6" fill="#fff" stroke="#f4a25a" stroke-width="1.8"/>
<polygon points="1737.9,460.9 1754.9,477.2 1737.9,493.5 1720.9,477.2" fill="#fff" stroke="#f4a25a" stroke-width="1.8"/>
<polygon points="1780.2,416.6 1797.2,432.9 1780.2,449.2 1763.2,432.9" fill="#fff" stroke="#f4a25a" stroke-width="1.8"/>
<polygon points="1822.5,380.4 1839.5,396.7 1822.5,413 1805.5,396.7" fill="#fff" stroke="#f4a25a" stroke-width="1.8"/>
<polygon points="1864.7,357.4 1881.7,373.7 1864.7,390 1847.7,373.7" fill="#fff" stroke="#f4a25a" stroke-width="1.8"/>
<polygon points="1907,340.1 1924,356.4 1907,372.7 1890,356.4" fill="#fff" stroke="#f4a25a" stroke-width="1.8"/>
<polygon points="1949.3,324 1966.3,340.3 1949.3,356.6 1932.3,340.3" fill="#fff" stroke="#f4a25a" stroke-width="1.8"/>
<polygon points="1991.6,311.9 2008.6,328.2 1991.6,344.5 1974.6,328.2" fill="#fff" stroke="#f4a25a" stroke-width="1.8"/>
<polygon points="2031.8,303.9 2048.8,320.2 2031.8,336.5 2014.8,320.2" fill="#fff" stroke="#f4a25a" stroke-width="1.8"/>
<polyline points="355.6,533.8 390.6,570.8 433.5,595 475.2,617.6 518.1,639 560.1,656.5 603,676 645.8,695.5 686.8,711.1 729.6,728.6 772.5,744.2 813.4,759.8 854.3,775.4 897.3,790.5 940.4,811.7 983.2,829.3 1025.3,852.6 1067.8,881.9 1110.7,923.5 1151.1,1034 1166.3,1253.4 1191.5,976 1237.2,901.8 1279,859.5 1322,828.3 1364.4,801.7 1407.1,779.5 1449.2,755.8 1492.2,734.8 1534,716.5 1576.1,691.8 1618.3,663.1 1660.6,629.4 1702.5,583.9 1744.8,525.5 1787,477.2 1829.3,443 1871.6,422.8 1913.8,402.7 1956.1,389.4 1998.8,377.3 2033.8,370.5" fill="none" stroke="#40e040" stroke-width="1.6" stroke-linejoin="round"/>
<rect x="341.4" y="520.7" width="28.4" height="26.2" fill="#00ff00"/>
<rect x="376.4" y="557.7" width="28.4" height="26.2" fill="#00ff00"/>
<rect x="419.3" y="581.9" width="28.4" height="26.2" fill="#00ff00"/>
<rect x="461" y="604.5" width="28.4" height="26.2" fill="#00ff00"/>
<rect x="503.9" y="625.9" width="28.4" height="26.2" fill="#00ff00"/>
<rect x="545.9" y="643.4" width="28.4" height="26.2" fill="#00ff00"/>
<rect x="588.8" y="662.9" width="28.4" height="26.2" fill="#00ff00"/>
<rect x="631.6" y="682.4" width="28.4" height="26.2" fill="#00ff00"/>
<rect x="672.6" y="698" width="28.4" height="26.2" fill="#00ff00"/>
<rect x="715.4" y="715.5" width="28.4" height="26.2" fill="#00ff00"/>
<rect x="758.3" y="731.1" width="28.4" height="26.2" fill="#00ff00"/>
<rect x="799.2" y="746.7" width="28.4" height="26.2" fill="#00ff00"/>
<rect x="840.1" y="762.3" width="28.4" height="26.2" fill="#00ff00"/>
<rect x="883.1" y="777.4" width="28.4" height="26.2" fill="#00ff00"/>
<rect x="926.2" y="798.6" width="28.4" height="26.2" fill="#00ff00"/>
<rect x="969" y="816.2" width="28.4" height="26.2" fill="#00ff00"/>
<rect x="1011.1" y="839.5" width="28.4" height="26.2" fill="#00ff00"/>
<rect x="1053.6" y="868.8" width="28.4" height="26.2" fill="#00ff00"/>
<rect x="1096.5" y="910.4" width="28.4" height="26.2" fill="#00ff00"/>
<rect x="1136.9" y="1020.9" width="28.4" height="26.2" fill="#00ff00"/>
<rect x="1177.3" y="962.9" width="28.4" height="26.2" fill="#00ff00"/>
<rect x="1223" y="888.7" width="28.4" height="26.2" fill="#00ff00"/>
<rect x="1264.8" y="846.4" width="28.4" height="26.2" fill="#00ff00"/>
<rect x="1307.8" y="815.2" width="28.4" height="26.2" fill="#00ff00"/>
<rect x="1350.2" y="788.6" width="28.4" height="26.2" fill="#00ff00"/>
<rect x="1392.9" y="766.4" width="28.4" height="26.2" fill="#00ff00"/>
<rect x="1435" y="742.7" width="28.4" height="26.2" fill="#00ff00"/>
<rect x="1478" y="721.7" width="28.4" height="26.2" fill="#00ff00"/>
<rect x="1519.8" y="703.4" width="28.4" height="26.2" fill="#00ff00"/>
<rect x="1561.9" y="678.7" width="28.4" height="26.2" fill="#00ff00"/>
<rect x="1604.1" y="650" width="28.4" height="26.2" fill="#00ff00"/>
<rect x="1646.4" y="616.3" width="28.4" height="26.2" fill="#00ff00"/>
<rect x="1688.3" y="570.8" width="28.4" height="26.2" fill="#00ff00"/>
<rect x="1730.6" y="512.4" width="28.4" height="26.2" fill="#00ff00"/>
<rect x="1772.8" y="464.1" width="28.4" height="26.2" fill="#00ff00"/>
<rect x="1815.1" y="429.9" width="28.4" height="26.2" fill="#00ff00"/>
<rect x="1857.4" y="409.7" width="28.4" height="26.2" fill="#00ff00"/>
<rect x="1899.6" y="389.6" width="28.4" height="26.2" fill="#00ff00"/>
<rect x="1941.9" y="376.3" width="28.4" height="26.2" fill="#00ff00"/>
<rect x="1984.6" y="364.2" width="28.4" height="26.2" fill="#00ff00"/>
<rect x="2019.6" y="357.4" width="28.4" height="26.2" fill="#00ff00"/>
<polyline points="353.6,568.9 406.2,603.9 448.3,629.3 490,651.9 531.7,670.2 573.8,690.8 617.4,709.1 659.5,728.6 702.3,744.2 745.2,759.8 787.3,775.4 830,792 872.5,809 915.1,825.4 956,844.8 997.7,864.3 1039.7,885.7 1082.6,913 1125,955 1168,1071.5 1181,1284 1210.6,1007 1252.5,932.4 1295.5,890.4 1337.8,860 1379.1,833.3 1421.7,809.4 1464.3,786.7 1506.9,765.4 1548.5,749 1591,722.8 1634,694.6 1676.3,661.6 1718.6,616.1 1760.9,556.9 1803.1,507.4 1845.4,476.4 1887.7,451 1929.1,436.1 1970.6,420.8 2013.7,410.8 2035.8,400.7" fill="none" stroke="#ff40ff" stroke-width="1.6" stroke-linejoin="round"/>
<polygon points="353.6,554.5 358.1,564.6 370.1,565.4 360.9,572.5 363.8,583.1 353.6,577.3 343.4,583.1 346.3,572.5 337.1,565.4 349.1,564.6" fill="#ff00ff"/>
<polygon points="406.2,589.5 410.7,599.6 422.7,600.4 413.5,607.5 416.4,618.1 406.2,612.3 396,618.1 398.9,607.5 389.7,600.4 401.7,599.6" fill="#ff00ff"/>
<polygon points="448.3,614.9 452.8,625 464.8,625.8 455.6,632.9 458.5,643.5 448.3,637.7 438.1,643.5 441,632.9 431.8,625.8 443.8,625" fill="#ff00ff"/>
<polygon points="490,637.5 494.5,647.6 506.5,648.4 497.3,655.5 500.2,666.1 490,660.3 479.8,666.1 482.7,655.5 473.5,648.4 485.5,647.6" fill="#ff00ff"/>
<polygon points="531.7,655.8 536.2,665.9 548.2,666.7 539,673.8 541.9,684.4 531.7,678.6 521.5,684.4 524.4,673.8 515.2,666.7 527.2,665.9" fill="#ff00ff"/>
<polygon points="573.8,676.4 578.3,686.5 590.3,687.3 581.1,694.4 584,705 573.8,699.2 563.6,705 566.5,694.4 557.3,687.3 569.3,686.5" fill="#ff00ff"/>
<polygon points="617.4,694.7 621.9,704.8 633.9,705.6 624.7,712.7 627.6,723.3 617.4,717.5 607.2,723.3 610.1,712.7 600.9,705.6 612.9,704.8" fill="#ff00ff"/>
<polygon points="659.5,714.2 664,724.3 676,725.1 666.8,732.2 669.7,742.8 659.5,737 649.3,742.8 652.2,732.2 643,725.1 655,724.3" fill="#ff00ff"/>
<polygon points="702.3,729.8 706.8,739.9 718.8,740.7 709.6,747.8 712.5,758.4 702.3,752.6 692.1,758.4 695,747.8 685.8,740.7 697.8,739.9" fill="#ff00ff"/>
<polygon points="745.2,745.4 749.7,755.5 761.7,756.3 752.5,763.4 755.4,774 745.2,768.2 735,774 737.9,763.4 728.7,756.3 740.7,755.5" fill="#ff00ff"/>
<polygon points="787.3,761 791.8,771.1 803.8,771.9 794.6,779 797.5,789.6 787.3,783.8 777.1,789.6 780,779 770.8,771.9 782.8,771.1" fill="#ff00ff"/>
<polygon points="830,777.6 834.5,787.7 846.5,788.5 837.3,795.6 840.2,806.2 830,800.4 819.8,806.2 822.7,795.6 813.5,788.5 825.5,787.7" fill="#ff00ff"/>
<polygon points="872.5,794.6 877,804.7 889,805.5 879.8,812.6 882.7,823.2 872.5,817.4 862.3,823.2 865.2,812.6 856,805.5 868,804.7" fill="#ff00ff"/>
<polygon points="915.1,811 919.6,821.1 931.6,821.9 922.4,829 925.3,839.6 915.1,833.8 904.9,839.6 907.8,829 898.6,821.9 910.6,821.1" fill="#ff00ff"/>
<polygon points="956,830.4 960.5,840.5 972.5,841.3 963.3,848.4 966.2,859 956,853.2 945.8,859 948.7,848.4 939.5,841.3 951.5,840.5" fill="#ff00ff"/>
<polygon points="997.7,849.9 1002.2,860 1014.2,860.8 1005,867.9 1007.9,878.5 997.7,872.7 987.5,878.5 990.4,867.9 981.2,860.8 993.2,860" fill="#ff00ff"/>
<polygon points="1039.7,871.3 1044.2,881.4 1056.2,882.2 1047,889.3 1049.9,899.9 1039.7,894.1 1029.5,899.9 1032.4,889.3 1023.2,882.2 1035.2,881.4" fill="#ff00ff"/>
<polygon points="1082.6,898.6 1087.1,908.7 1099.1,909.5 1089.9,916.6 1092.8,927.2 1082.6,921.4 1072.4,927.2 1075.3,916.6 1066.1,909.5 1078.1,908.7" fill="#ff00ff"/>
<polygon points="1125,940.6 1129.5,950.7 1141.5,951.5 1132.3,958.6 1135.2,969.2 1125,963.4 1114.8,969.2 1117.7,958.6 1108.5,951.5 1120.5,950.7" fill="#ff00ff"/>
<polygon points="1168,1057.1 1172.5,1067.2 1184.5,1068 1175.3,1075.1 1178.2,1085.7 1168,1079.9 1157.8,1085.7 1160.7,1075.1 1151.5,1068 1163.5,1067.2" fill="#ff00ff"/>
<polygon points="1210.6,992.6 1215.1,1002.7 1227.1,1003.5 1217.9,1010.6 1220.8,1021.2 1210.6,1015.4 1200.4,1021.2 1203.3,1010.6 1194.1,1003.5 1206.1,1002.7" fill="#ff00ff"/>
<polygon points="1252.5,918 1257,928.1 1269,928.9 1259.8,936 1262.7,946.6 1252.5,940.8 1242.3,946.6 1245.2,936 1236,928.9 1248,928.1" fill="#ff00ff"/>
<polygon points="1295.5,876 1300,886.1 1312,886.9 1302.8,894 1305.7,904.6 1295.5,898.8 1285.3,904.6 1288.2,894 1279,886.9 1291,886.1" fill="#ff00ff"/>
<polygon points="1337.8,845.6 1342.3,855.7 1354.3,856.5 1345.1,863.6 1348,874.2 1337.8,868.4 1327.6,874.2 1330.5,863.6 1321.3,856.5 1333.3,855.7" fill="#ff00ff"/>
<polygon points="1379.1,818.9 1383.6,829 1395.6,829.8 1386.4,836.9 1389.3,847.5 1379.1,841.7 1368.9,847.5 1371.8,836.9 1362.6,829.8 1374.6,829" fill="#ff00ff"/>
<polygon points="1421.7,795 1426.2,805.1 1438.2,805.9 1429,813 1431.9,823.6 1421.7,817.8 1411.5,823.6 1414.4,813 1405.2,805.9 1417.2,805.1" fill="#ff00ff"/>
<polygon points="1464.3,772.3 1468.8,782.4 1480.8,783.2 1471.6,790.3 1474.5,800.9 1464.3,795.1 1454.1,800.9 1457,790.3 1447.8,783.2 1459.8,782.4" fill="#ff00ff"/>
<polygon points="1506.9,751 1511.4,761.1 1523.4,761.9 1514.2,769 1517.1,779.6 1506.9,773.8 1496.7,779.6 1499.6,769 1490.4,761.9 1502.4,761.1" fill="#ff00ff"/>
<polygon points="1548.5,734.6 1553,744.7 1565,745.5 1555.8,752.6 1558.7,763.2 1548.5,757.4 1538.3,763.2 1541.2,752.6 1532,745.5 1544,744.7" fill="#ff00ff"/>
<polygon points="1591,708.4 1595.5,718.5 1607.5,719.3 1598.3,726.4 1601.2,737 1591,731.2 1580.8,737 1583.7,726.4 1574.5,719.3 1586.5,718.5" fill="#ff00ff"/>
<polygon points="1634,680.2 1638.5,690.3 1650.5,691.1 1641.3,698.2 1644.2,708.8 1634,703 1623.8,708.8 1626.7,698.2 1617.5,691.1 1629.5,690.3" fill="#ff00ff"/>
<polygon points="1676.3,647.2 1680.8,657.3 1692.8,658.1 1683.6,665.2 1686.5,675.8 1676.3,670 1666.1,675.8 1669,665.2 1659.8,658.1 1671.8,657.3" fill="#ff00ff"/>
<polygon points="1718.6,601.7 1723.1,611.8 1735.1,612.6 1725.9,619.7 1728.8,630.3 1718.6,624.5 1708.4,630.3 1711.3,619.7 1702.1,612.6 1714.1,611.8" fill="#ff00ff"/>
<polygon points="1760.9,542.5 1765.4,552.6 1777.4,553.4 1768.2,560.5 1771.1,571.1 1760.9,565.3 1750.7,571.1 1753.6,560.5 1744.4,553.4 1756.4,552.6" fill="#ff00ff"/>
<polygon points="1803.1,493 1807.6,503.1 1819.6,503.9 1810.4,511 1813.3,521.6 1803.1,515.8 1792.9,521.6 1795.8,511 1786.6,503.9 1798.6,503.1" fill="#ff00ff"/>
<polygon points="1845.4,462 1849.9,472.1 1861.9,472.9 1852.7,480 1855.6,490.6 1845.4,484.8 1835.2,490.6 1838.1,480 1828.9,472.9 1840.9,472.1" fill="#ff00ff"/>
<polygon points="1887.7,436.6 1892.2,446.7 1904.2,447.5 1895,454.6 1897.9,465.2 1887.7,459.4 1877.5,465.2 1880.4,454.6 1871.2,447.5 1883.2,446.7" fill="#ff00ff"/>
<polygon points="1929.1,421.7 1933.6,431.8 1945.6,432.6 1936.4,439.7 1939.3,450.3 1929.1,444.5 1918.9,450.3 1921.8,439.7 1912.6,432.6 1924.6,431.8" fill="#ff00ff"/>
<polygon points="1970.6,406.4 1975.1,416.5 1987.1,417.3 1977.9,424.4 1980.8,435 1970.6,429.2 1960.4,435 1963.3,424.4 1954.1,417.3 1966.1,416.5" fill="#ff00ff"/>
<polygon points="2013.7,396.4 2018.2,406.5 2030.2,407.3 2021,414.4 2023.9,425 2013.7,419.2 2003.5,425 2006.4,414.4 1997.2,407.3 2009.2,406.5" fill="#ff00ff"/>
<polygon points="2035.8,386.3 2040.3,396.4 2052.3,397.2 2043.1,404.3 2046,414.9 2035.8,409.1 2025.6,414.9 2028.5,404.3 2019.3,397.2 2031.3,396.4" fill="#ff00ff"/>
<path d="M394 275.5L493.5 316.7 M534.8 334.4L621.5 372.9 M662.7 391.3L732.6 423 M773.8 441L855.3 475.6 M896.4 494.3L972.9 531.6 M1013.5 554.4L1069.7 590.1 M1108.4 620.9L1133.7 645.1 M1163.3 682.3L1173.1 699.5 M1189.5 738.6L1193.6 754 M1199.7 794L1199.9 801.7 M1202.3 841.9L1203.8 858.5 M1206.9 898.7L1210.1 942.2 M1212.7 942.2L1214.9 903.5 M1217.5 863.3L1219.5 833.7 M1235.8 754.1L1241 736.8 M1258.4 697.9L1289 647.1 M1318.8 610L1379.2 550.8 M1417.5 519.5L1505.5 461.4 M1545.8 436.3L1630.9 386.8 M1671.6 363.9L1752.3 320.1 M1793.3 299.5L1884.8 257.1 M1926.1 239.4L2010.3 206.1" fill="none" stroke="#333" stroke-width="1.9"/>
<rect x="359.1" y="253.8" width="28.4" height="26.2" fill="#000"/>
<rect x="500" y="312.2" width="28.4" height="26.2" fill="#000"/>
<rect x="627.9" y="368.9" width="28.4" height="26.2" fill="#000"/>
<rect x="739" y="419.2" width="28.4" height="26.2" fill="#000"/>
<rect x="861.7" y="471.2" width="28.4" height="26.2" fill="#000"/>
<rect x="979.2" y="528.5" width="28.4" height="26.2" fill="#000"/>
<rect x="1075.6" y="589.8" width="28.4" height="26.2" fill="#000"/>
<rect x="1138.1" y="650" width="28.4" height="26.2" fill="#000"/>
<rect x="1169.9" y="705.6" width="28.4" height="26.2" fill="#000"/>
<rect x="1184.8" y="760.8" width="28.4" height="26.2" fill="#000"/>
<rect x="1186.4" y="808.7" width="28.4" height="26.2" fill="#000"/>
<rect x="1191.3" y="865.5" width="28.4" height="26.2" fill="#000"/>
<rect x="1197.3" y="949.2" width="28.4" height="26.2" fill="#000"/>
<rect x="1201.9" y="870.3" width="28.4" height="26.2" fill="#000"/>
<rect x="1206.7" y="800.5" width="28.4" height="26.2" fill="#000"/>
<rect x="1215.7" y="760.8" width="28.4" height="26.2" fill="#000"/>
<rect x="1232.7" y="703.9" width="28.4" height="26.2" fill="#000"/>
<rect x="1286.3" y="614.9" width="28.4" height="26.2" fill="#000"/>
<rect x="1383.3" y="519.7" width="28.4" height="26.2" fill="#000"/>
<rect x="1511.3" y="435" width="28.4" height="26.2" fill="#000"/>
<rect x="1637" y="361.9" width="28.4" height="26.2" fill="#000"/>
<rect x="1758.5" y="295.9" width="28.4" height="26.2" fill="#000"/>
<rect x="1891.2" y="234.5" width="28.4" height="26.2" fill="#000"/>
<rect x="2016.8" y="184.8" width="28.4" height="26.2" fill="#000"/>
<polyline points="353.6,401.3 409.4,435.2 451.8,459.8 493.1,483.2 535.6,503.4 577.7,522.9 619.7,541.6 662.2,559.1 705.1,576.7 747.1,594.2 790,609.8 832.1,625.4 874.5,641 916.4,658.2 959.1,676.5 1001.6,694.8 1043.6,718.2 1086.5,746.7 1128,790 1170.1,902.6 1177,935 1183,1039 1185,1117 1189,1029 1194,939 1203,889 1213.5,840 1255.1,765.2 1297.4,724.2 1339.5,691.5 1382.2,666.4 1425.6,643 1466,622 1509.2,600 1551.9,579.8 1593.8,555.7 1636.1,527.5 1678.3,493.3 1719.8,447 1762.1,399.9 1804.3,353.6 1847.8,325 1890.1,302.9 1933.2,291.2 1975.4,277.1 2016.9,267 2037.8,253.7" fill="none" stroke="#8a30ff" stroke-width="1.6" stroke-linejoin="round"/>
<ellipse cx="353.6" cy="401.3" rx="16" ry="14.8" fill="url(#pg)"/>
<ellipse cx="409.4" cy="435.2" rx="16" ry="14.8" fill="url(#pg)"/>
<ellipse cx="451.8" cy="459.8" rx="16" ry="14.8" fill="url(#pg)"/>
<ellipse cx="493.1" cy="483.2" rx="16" ry="14.8" fill="url(#pg)"/>
<ellipse cx="535.6" cy="503.4" rx="16" ry="14.8" fill="url(#pg)"/>
<ellipse cx="577.7" cy="522.9" rx="16" ry="14.8" fill="url(#pg)"/>
<ellipse cx="619.7" cy="541.6" rx="16" ry="14.8" fill="url(#pg)"/>
<ellipse cx="662.2" cy="559.1" rx="16" ry="14.8" fill="url(#pg)"/>
<ellipse cx="705.1" cy="576.7" rx="16" ry="14.8" fill="url(#pg)"/>
<ellipse cx="747.1" cy="594.2" rx="16" ry="14.8" fill="url(#pg)"/>
<ellipse cx="790" cy="609.8" rx="16" ry="14.8" fill="url(#pg)"/>
<ellipse cx="832.1" cy="625.4" rx="16" ry="14.8" fill="url(#pg)"/>
<ellipse cx="874.5" cy="641" rx="16" ry="14.8" fill="url(#pg)"/>
<ellipse cx="916.4" cy="658.2" rx="16" ry="14.8" fill="url(#pg)"/>
<ellipse cx="959.1" cy="676.5" rx="16" ry="14.8" fill="url(#pg)"/>
<ellipse cx="1001.6" cy="694.8" rx="16" ry="14.8" fill="url(#pg)"/>
<ellipse cx="1043.6" cy="718.2" rx="16" ry="14.8" fill="url(#pg)"/>
<ellipse cx="1086.5" cy="746.7" rx="16" ry="14.8" fill="url(#pg)"/>
<ellipse cx="1128" cy="790" rx="16" ry="14.8" fill="url(#pg)"/>
<ellipse cx="1170.1" cy="902.6" rx="16" ry="14.8" fill="url(#pg)"/>
<ellipse cx="1213.5" cy="840" rx="16" ry="14.8" fill="url(#pg)"/>
<ellipse cx="1255.1" cy="765.2" rx="16" ry="14.8" fill="url(#pg)"/>
<ellipse cx="1297.4" cy="724.2" rx="16" ry="14.8" fill="url(#pg)"/>
<ellipse cx="1339.5" cy="691.5" rx="16" ry="14.8" fill="url(#pg)"/>
<ellipse cx="1382.2" cy="666.4" rx="16" ry="14.8" fill="url(#pg)"/>
<ellipse cx="1425.6" cy="643" rx="16" ry="14.8" fill="url(#pg)"/>
<ellipse cx="1466" cy="622" rx="16" ry="14.8" fill="url(#pg)"/>
<ellipse cx="1509.2" cy="600" rx="16" ry="14.8" fill="url(#pg)"/>
<ellipse cx="1551.9" cy="579.8" rx="16" ry="14.8" fill="url(#pg)"/>
<ellipse cx="1593.8" cy="555.7" rx="16" ry="14.8" fill="url(#pg)"/>
<ellipse cx="1636.1" cy="527.5" rx="16" ry="14.8" fill="url(#pg)"/>
<ellipse cx="1678.3" cy="493.3" rx="16" ry="14.8" fill="url(#pg)"/>
<ellipse cx="1719.8" cy="447" rx="16" ry="14.8" fill="url(#pg)"/>
<ellipse cx="1762.1" cy="399.9" rx="16" ry="14.8" fill="url(#pg)"/>
<ellipse cx="1804.3" cy="353.6" rx="16" ry="14.8" fill="url(#pg)"/>
<ellipse cx="1847.8" cy="325" rx="16" ry="14.8" fill="url(#pg)"/>
<ellipse cx="1890.1" cy="302.9" rx="16" ry="14.8" fill="url(#pg)"/>
<ellipse cx="1933.2" cy="291.2" rx="16" ry="14.8" fill="url(#pg)"/>
<ellipse cx="1975.4" cy="277.1" rx="16" ry="14.8" fill="url(#pg)"/>
<ellipse cx="2016.9" cy="267" rx="16" ry="14.8" fill="url(#pg)"/>
<ellipse cx="2037.8" cy="253.7" rx="16" ry="14.8" fill="url(#pg)"/>
</g>
<rect x="348.5" y="56.4" width="1693" height="1264.2" fill="none" stroke="#000" stroke-width="4"/>
<path d="M319.5 56.4H348.5 M319.5 237H348.5 M319.5 417.6H348.5 M319.5 598.2H348.5 M319.5 778.8H348.5 M319.5 959.4H348.5 M319.5 1140H348.5 M319.5 1320.6H348.5" stroke="#000" stroke-width="3.4"/>
<path d="M333.5 182.6H348.5 M333.5 150.8H348.5 M333.5 128.3H348.5 M333.5 110.8H348.5 M333.5 96.5H348.5 M333.5 84.4H348.5 M333.5 73.9H348.5 M333.5 64.7H348.5 M333.5 363.2H348.5 M333.5 331.4H348.5 M333.5 308.9H348.5 M333.5 291.4H348.5 M333.5 277.1H348.5 M333.5 265H348.5 M333.5 254.5H348.5 M333.5 245.3H348.5 M333.5 543.8H348.5 M333.5 512H348.5 M333.5 489.5H348.5 M333.5 472H348.5 M333.5 457.7H348.5 M333.5 445.6H348.5 M333.5 435.1H348.5 M333.5 425.9H348.5 M333.5 724.4H348.5 M333.5 692.6H348.5 M333.5 670.1H348.5 M333.5 652.6H348.5 M333.5 638.3H348.5 M333.5 626.2H348.5 M333.5 615.7H348.5 M333.5 606.5H348.5 M333.5 905H348.5 M333.5 873.2H348.5 M333.5 850.7H348.5 M333.5 833.2H348.5 M333.5 818.9H348.5 M333.5 806.8H348.5 M333.5 796.3H348.5 M333.5 787.1H348.5 M333.5 1085.6H348.5 M333.5 1053.8H348.5 M333.5 1031.3H348.5 M333.5 1013.8H348.5 M333.5 999.5H348.5 M333.5 987.4H348.5 M333.5 976.9H348.5 M333.5 967.7H348.5 M333.5 1266.2H348.5 M333.5 1234.4H348.5 M333.5 1211.9H348.5 M333.5 1194.4H348.5 M333.5 1180.1H348.5 M333.5 1168H348.5 M333.5 1157.5H348.5 M333.5 1148.3H348.5" stroke="#000" stroke-width="3"/>
<path d="M348.5 1320.6V1346.6 M630.7 1320.6V1346.6 M912.8 1320.6V1346.6 M1195 1320.6V1346.6 M1477.2 1320.6V1346.6 M1759.3 1320.6V1346.6 M2041.5 1320.6V1346.6" stroke="#000" stroke-width="3.4"/>
<path d="M489.6 1320.6V1333.6 M771.8 1320.6V1333.6 M1053.9 1320.6V1333.6 M1336.1 1320.6V1333.6 M1618.2 1320.6V1333.6 M1900.4 1320.6V1333.6" stroke="#000" stroke-width="3"/>
<g transform="translate(302.6,71.9) scale(1.087,1)"><text x="-115.7" class="yl">1000</text><path d="M-113.6 -7.1H-103.5V2H-113.6ZM-96.4 -7.1H-87V2H-96.4Z" fill="#fff"/></g>
<g transform="translate(302.6,252.5) scale(1.087,1)"><text x="-86.8" class="yl">100</text><path d="M-84.7 -7.1H-74.6V2H-84.7ZM-67.5 -7.1H-58.1V2H-67.5Z" fill="#fff"/></g>
<g transform="translate(302.6,433.1) scale(1.087,1)"><text x="-57.8" class="yl">10</text><path d="M-55.8 -7.1H-45.7V2H-55.8ZM-38.6 -7.1H-29.2V2H-38.6Z" fill="#fff"/></g>
<g transform="translate(302.6,613.7) scale(1.087,1)"><text x="-28.9" class="yl">1</text><path d="M-26.8 -7.1H-16.8V2H-26.8ZM-9.6 -7.1H-0.2V2H-9.6Z" fill="#fff"/></g>
<g transform="translate(302.6,794.3) scale(1.087,1)"><text x="-72.3" class="yl">0.1</text><path d="M-26.8 -7.1H-16.8V2H-26.8ZM-9.6 -7.1H-0.2V2H-9.6Z" fill="#fff"/></g>
<g transform="translate(302.6,974.9) scale(1.087,1)"><text x="-101.2" class="yl">0.01</text><path d="M-26.8 -7.1H-16.8V2H-26.8ZM-9.6 -7.1H-0.2V2H-9.6Z" fill="#fff"/></g>
<g transform="translate(302.6,1155.5) scale(1.087,1)"><text x="-130.1" class="yl">0.001</text><path d="M-26.8 -7.1H-16.8V2H-26.8ZM-9.6 -7.1H-0.2V2H-9.6Z" fill="#fff"/></g>
<g transform="translate(302.6,1336.1) scale(1.087,1)"><text x="-109.8" class="yl">1E-4</text><path d="M-107.8 -7.1H-97.7V2H-107.8ZM-90.6 -7.1H-81.2V2H-90.6Z" fill="#fff"/></g>
<text transform="translate(348.5,1414.5) scale(1.037,1)" text-anchor="middle" class="xl">-800</text>
<text transform="translate(630.7,1414.5) scale(1.037,1)" text-anchor="middle" class="xl">-700</text>
<text transform="translate(912.8,1414.5) scale(1.037,1)" text-anchor="middle" class="xl">-600</text>
<text transform="translate(1195,1414.5) scale(1.037,1)" text-anchor="middle" class="xl">-500</text>
<text transform="translate(1477.2,1414.5) scale(1.037,1)" text-anchor="middle" class="xl">-400</text>
<text transform="translate(1759.3,1414.5) scale(1.037,1)" text-anchor="middle" class="xl">-300</text>
<text transform="translate(2041.5,1414.5) scale(1.037,1)" text-anchor="middle" class="xl">-200</text>
<text transform="translate(1199.9,152.6) scale(1.07,1)" text-anchor="middle" class="pl" font-size="78">(b)</text>
<text transform="translate(1196.5,1511.9) scale(1.12,1)" text-anchor="middle" class="xt">E( mV/SCE)</text>
<text transform="translate(104.5,0) rotate(-90) scale(0.87,1)" class="yt"><tspan x="-948.2" y="0" font-style="italic">i</tspan> <tspan x="-897.2" y="0" font-size="90">(</tspan><tspan x="-860.1" y="0">m</tspan><tspan x="-794.3" y="0">A</tspan><tspan x="-734.5" y="0">/</tspan><tspan x="-703.1" y="0">c</tspan><tspan x="-661.5" y="0">m</tspan><tspan x="-593.6" y="-34.5" font-size="51">2</tspan><tspan x="-567.4" y="0" font-size="90">)</tspan></text>
<rect x="1563.6" y="854.3" width="471.1" height="455.9" fill="#fff" stroke="#555" stroke-width="2.4"/>
<path d="M1571 901.6H1627.8M1672.2 901.6H1728" stroke="#444" stroke-width="2.4"/>
<rect x="1635.8" y="888.5" width="28.4" height="26.2" fill="#000"/>
<text transform="translate(1750,923.6) scale(1.065,1)" class="lg">Blank</text>
<line x1="1571" y1="993.4" x2="1728" y2="993.4" stroke="#a070ff" stroke-width="3"/>
<ellipse cx="1650" cy="993.4" rx="16" ry="14.8" fill="url(#pg)"/>
<g transform="translate(1750,1015.4) scale(1.065,1)"><text x="0" class="lg">1x10<tspan dy="-31" font-size="42">-4</tspan><tspan dy="31" dx="19">M</tspan></text><path d="M3 -8.5H15.4V2H3ZM24.5 -8.5H36.1V2H24.5ZM76.4 -8.5H88.8V2H76.4ZM97.9 -8.5H109.5V2H97.9Z" fill="#fff"/></g>
<line x1="1571" y1="1082.9" x2="1728" y2="1082.9" stroke="#f8c098" stroke-width="3"/>
<polygon points="1650,1066.6 1667,1082.9 1650,1099.2 1633,1082.9" fill="#fff" stroke="#f4a25a" stroke-width="1.8"/>
<g transform="translate(1750,1104.9) scale(1.065,1)"><text x="0" class="lg">5x10<tspan dy="-31" font-size="42">-4</tspan><tspan dy="31" dx="19">M</tspan></text><path d="M76.4 -8.5H88.8V2H76.4ZM97.9 -8.5H109.5V2H97.9Z" fill="#fff"/></g>
<line x1="1571" y1="1175.1" x2="1728" y2="1175.1" stroke="#50e050" stroke-width="3"/>
<rect x="1635.8" y="1162" width="28.4" height="26.2" fill="#00ff00"/>
<g transform="translate(1750,1197.1) scale(1.065,1)"><text x="0" class="lg">1x10<tspan dy="-31" font-size="42">-3</tspan><tspan dy="31" dx="19">M</tspan></text><path d="M3 -8.5H15.4V2H3ZM24.5 -8.5H36.1V2H24.5ZM76.4 -8.5H88.8V2H76.4ZM97.9 -8.5H109.5V2H97.9Z" fill="#fff"/></g>
<line x1="1571" y1="1266.3" x2="1728" y2="1266.3" stroke="#ff60ff" stroke-width="3"/>
<polygon points="1650,1251.9 1654.5,1262 1666.5,1262.8 1657.3,1269.9 1660.2,1280.5 1650,1274.7 1639.8,1280.5 1642.7,1269.9 1633.5,1262.8 1645.5,1262" fill="#ff00ff"/>
<g transform="translate(1750,1288.3) scale(1.065,1)"><text x="0" class="lg">5x10<tspan dy="-31" font-size="42">-3</tspan><tspan dy="31" dx="19">M</tspan></text><path d="M76.4 -8.5H88.8V2H76.4ZM97.9 -8.5H109.5V2H97.9Z" fill="#fff"/></g>
</g>
</svg></body></html>
